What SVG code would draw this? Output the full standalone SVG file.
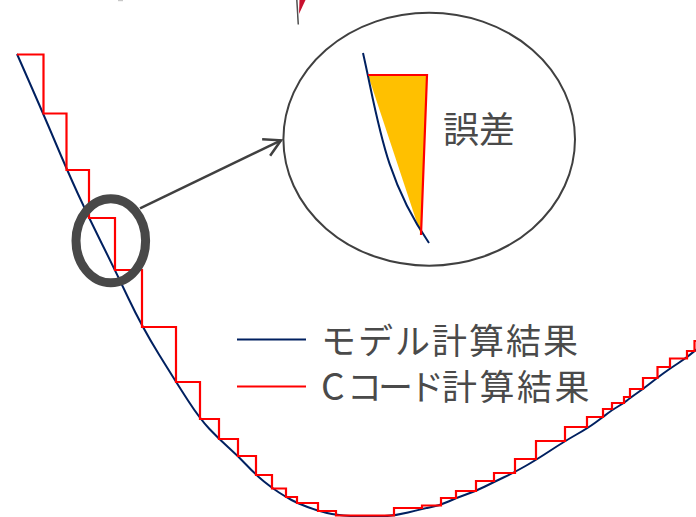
<svg xmlns="http://www.w3.org/2000/svg" width="696" height="517" viewBox="0 0 696 517">
  <style>
    .model { fill: none; stroke: #002060; stroke-width: 2; stroke-linejoin: round; }
    .ccode { fill: none; stroke: #FF0000; stroke-width: 2.2; stroke-linejoin: miter; }
    .label { font-family: "Noto Sans CJK JP", "Noto Sans", sans-serif; fill: #4a4a4a; }
    .conn { fill: none; stroke: #404040; stroke-width: 2.5; }
  </style>
  <defs>
    <marker id="openArrow" markerUnits="userSpaceOnUse" markerWidth="22" markerHeight="22" viewBox="0 0 22 22" refX="19" refY="11" orient="auto">
      <path d="M2.5,1.8 L19,11 L2.5,20.2" fill="none" stroke="#404040" stroke-width="2.5" stroke-linejoin="miter"/>
    </marker>
  </defs>
  <rect width="696" height="517" fill="#FFFFFF"/>

  <!-- cut-off fragments at the top edge -->
  <g id="top-fragments">
    <line x1="118" y1="0.6" x2="123" y2="0.6" stroke="#c8c8c8" stroke-width="1.2"/>
    <polygon points="299.5,0 305.5,0 299,14" fill="#C8102E"/>
    <line x1="296.8" y1="0" x2="298.3" y2="24.5" stroke="#505050" stroke-width="1.5"/>
  </g>

  <g id="model-curve">
    <path class="model" d="M17,54 Q43,113 55,141.5 Q67,170 78,194 Q89,218 102,244 Q115,270 128.5,298.5 Q142,327 159,354.5 Q176,382 188,400.5 Q200,419 209.5,429 Q219,439 228.5,447.5 Q238,456 247,465.5 Q256,475 264,481.5 Q272,488 279,492.5 Q286,497 291.5,500 Q297,503 307.5,507 Q318,511 327,513 Q336,515 350.5,516 Q365,517 379.5,516.5 Q394,516 408,512.5 Q422,509 431.5,507 Q441,505 448.5,501.5 Q456,498 466,494.5 Q476,491 485,486.5 Q494,482 504.5,477 Q515,472 525.5,466 Q536,460 550.5,450.5 Q565,441 576.5,434.5 Q588,428 595.5,422.5 Q603,417 607.5,413.5 Q612,410 618,406.5 Q624,403 627,400.5 Q630,398 636.5,393.5 Q643,389 650,383.5 Q657,378 663.5,373.25 Q670,368.5 678.5,363 Q687,357.5 697,349"/>
  </g>

  <g id="ccode-curve">
    <path class="ccode" d="M17,54.5 H43.5 V113.5 H66.5 V170 H89 V218 H115 V270 H142 V327 H176 V382 H200 V419 H219 V439 H238 V456 H256 V475 H272 V488.5 H286 V497 H297 V503 H318 V511 H336 V515.5 H394 V508 H422 V505.5 H441 V498 H456 V491 H476 V481 H494 V473 H515 V459 H536 V441 H565 V427 H587 V417 H603 V409 H612 V403 H624 V397 H630 V389 H643 V378 H657.5 V367 H670 V358.5 H687 V351 H694.5 V341 H697"/>
  </g>

  <g id="magnifier-ring">
    <ellipse cx="110.8" cy="240.8" rx="34.8" ry="42" fill="none" stroke="#484848" stroke-width="9"/>
  </g>

  <g id="connectors">
    <line class="conn" x1="140" y1="208.3" x2="281" y2="140.3" marker-end="url(#openArrow)"/>
  </g>

  <g id="zoom-lens">
    <ellipse cx="429.2" cy="139.2" rx="145.8" ry="126.5" fill="#FFFFFF" stroke="#404040" stroke-width="2"/>
    <polygon points="368,75 427,75 421,235" fill="#FFC000"/>
    <path d="M363,53 C378,119 384,178 429,243" fill="none" stroke="#002060" stroke-width="2"/>
    <polyline points="368,75 427,75 421,235" fill="none" stroke="#FF0000" stroke-width="2.2"/>
    <text class="label" x="443" y="143" font-size="36">誤差</text>
  </g>

  <g id="legend">
    <line x1="237" y1="339.5" x2="306" y2="339.5" stroke="#002060" stroke-width="2"/>
    <line x1="237" y1="386.5" x2="306" y2="386.5" stroke="#FF0000" stroke-width="2"/>
    <text class="label" x="321" y="354" font-size="35" letter-spacing="2">モデル計算結果</text>
    <text class="label" y="400" font-size="35"><tspan x="321" font-size="37">C</tspan><tspan x="347" letter-spacing="-4">コード</tspan><tspan x="442" letter-spacing="2.5">計算結果</tspan></text>
  </g>
</svg>
